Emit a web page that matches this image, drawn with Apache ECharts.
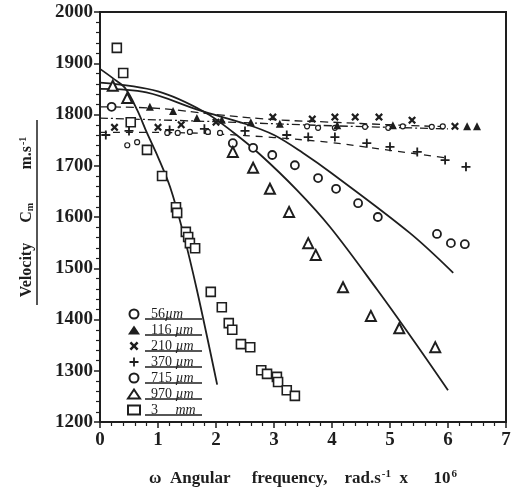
<!DOCTYPE html>
<html>
<head>
<meta charset="utf-8">
<script src="https://cdn.jsdelivr.net/npm/echarts@6/dist/echarts.min.js"></script>
<style>
  html, body { margin: 0; padding: 0; background: #fff; }
  #chart { width: 515px; height: 499px; }
</style>
</head>
<body>
<div id="chart"></div>
<script>
// 数据点: [omega (rad/s x 10^6), velocity (m/s)]
const size56 = [[0.47,1740],[0.64,1746],[1.16,1764],[1.34,1764],[1.55,1766],[1.86,1766],[2.07,1764],
  [3.57,1777],[3.76,1774],[4.05,1774],[4.57,1776],[4.97,1774],[5.22,1777],[5.72,1776],[5.91,1777]];
const size116 = [[0.86,1815],[1.26,1807],[1.67,1793],[2.1,1790],[2.6,1785],[3.1,1782],
  [4.09,1779],[5.05,1779],[6.33,1777],[6.5,1777]];
const size210 = [[0.25,1775],[1.0,1775],[1.4,1780],[2.0,1785],[2.98,1795],[3.66,1791],
  [4.05,1795],[4.4,1795],[4.81,1795],[5.38,1789],[6.12,1777]];
const size370 = [[0.1,1760],[0.5,1768],[1.2,1770],[1.8,1772],[2.5,1768],[3.22,1760],[3.59,1756],
  [4.05,1756],[4.6,1744],[5.0,1737],[5.47,1727],[5.95,1711],[6.31,1698]];
const size715 = [[0.2,1815],[2.29,1744],[2.64,1735],[2.97,1721],[3.36,1701],[3.76,1676],[4.07,1655],
  [4.45,1627],[4.79,1600],[5.81,1567],[6.05,1549],[6.29,1547]];
const size970 = [[0.22,1856],[0.47,1832],[2.29,1727],[2.64,1696],[2.93,1655],[3.26,1610],[3.59,1549],
  [3.72,1526],[4.19,1463],[4.67,1407],[5.16,1383],[5.78,1346]];
const size3mm = [[0.29,1930],[0.4,1881],[0.53,1785],[0.81,1731],[1.07,1680],[1.31,1619],[1.33,1608],
  [1.48,1571],[1.52,1561],[1.55,1549],[1.64,1539],[1.91,1454],[2.1,1424],[2.22,1393],[2.28,1380],
  [2.43,1352],[2.59,1346],[2.78,1301],[2.88,1294],[3.05,1288],[3.07,1278],[3.22,1262],[3.36,1251]];

// 理论曲线
const fit3mm = [[0,1889],[0.22,1871],[0.43,1852],[0.64,1809],[0.81,1764],[1.0,1717],[1.21,1658],
  [1.43,1571],[1.67,1458],[2.02,1273]];
const fit970 = [[0,1862],[1,1845],[1.8,1805],[2.3,1765],[2.76,1722],[3.4,1652],[3.97,1580],
  [4.78,1458],[5.4,1360],[6.0,1262]];
const fit715 = [[0,1850],[0.8,1843],[1.72,1808],[2.5,1782],[3.0,1760],[3.5,1725],[4.0,1685],
  [5.34,1569],[6.09,1491]];
const fitDashA = [[0,1815],[1,1812],[2,1800],[3,1790],[4,1785],[5,1780],[6,1776]];
const fitDashDot = [[0,1793],[2,1786],[4,1778],[6,1772]];
const fit370 = [[0,1765],[1,1765],[2,1762],[3,1755],[4,1745],[5,1730],[6,1715]];

const legendNames = ['56µm', '116 µm', '210 µm', '370 µm', '715 µm', '970 µm', '3     mm'];

const INK = '#1e1e1e';
const SERIF = '"Liberation Serif", "DejaVu Serif", serif';
const CROSS = 'path://M2,0 L5,3 L8,0 L10,2 L7,5 L10,8 L8,10 L5,7 L2,10 L0,8 L3,5 L0,2 Z';
const PLUS = 'path://M4,0 H6 V4 H10 V6 H6 V10 H4 V6 H0 V4 H4 Z';

function scatter(name, data, symbol, symbolSize, open, borderWidth) {
  return {
    name, type: 'scatter', data, symbol, symbolSize,
    itemStyle: open
      ? { color: '#fff', borderColor: INK, borderWidth: borderWidth || 1.5, opacity: 1 }
      : { color: INK, opacity: 1 },
    z: 3
  };
}

function curve(data, type, width) {
  return {
    type: 'line', data, smooth: 0.35, showSymbol: false, silent: true,
    lineStyle: { color: INK, width: width || 1.8, type: type || 'solid' },
    z: 2
  };
}

const chart = echarts.init(document.getElementById('chart'), null, { renderer: 'canvas' });

// 图例下划线 (y 坐标)
const underlineRows = [319, 335, 351, 367, 383, 399, 415];

chart.setOption({
  backgroundColor: '#fff',
  animation: false,
  grid: { left: 100, right: 9, top: 12, bottom: 77, show: true, borderColor: INK, borderWidth: 2 },
  xAxis: {
    type: 'value', min: 0, max: 7, interval: 1,
    name: '{b|ω  Angular     frequency,    rad.s}{sup|-1}{b|  x      10}{sup|6}',
    nameLocation: 'middle', nameGap: 47,
    nameTextStyle: {
      rich: {
        b: { fontFamily: SERIF, fontWeight: 'bold', fontSize: 17, color: INK },
        sup: { fontFamily: SERIF, fontWeight: 'bold', fontSize: 11, color: INK, padding: [0, 0, 9, 1] }
      }
    },
    axisLine: { lineStyle: { color: INK, width: 2 } },
    axisTick: { length: 6, lineStyle: { color: INK, width: 1.5 } },
    minorTick: { show: true, splitNumber: 5, length: 4, lineStyle: { color: INK, width: 1.2 } },
    splitLine: { show: false },
    axisLabel: { color: INK, fontFamily: SERIF, fontWeight: 'bold', fontSize: 19, margin: 9 }
  },
  yAxis: {
    type: 'value', min: 1200, max: 2000, interval: 100,
    name: '{b|Velocity}      {b|C}{sub|m}          {b|m.s}{sup|-1}',
    nameLocation: 'middle', nameRotate: 90, nameGap: 64,
    nameTextStyle: {
      rich: {
        b: { fontFamily: SERIF, fontWeight: 'bold', fontSize: 16, color: INK },
        sub: { fontFamily: SERIF, fontWeight: 'bold', fontSize: 10, color: INK, padding: [6, 0, 0, 0] },
        sup: { fontFamily: SERIF, fontWeight: 'bold', fontSize: 10, color: INK, padding: [0, 0, 8, 1] }
      }
    },
    axisLine: { lineStyle: { color: INK, width: 2 } },
    axisTick: { length: 6, lineStyle: { color: INK, width: 1.5 } },
    minorTick: { show: true, splitNumber: 5, length: 4, lineStyle: { color: INK, width: 1.2 } },
    splitLine: { show: false },
    axisLabel: {
      color: INK, fontFamily: SERIF, fontWeight: 'bold', fontSize: 19, margin: 7,
      formatter: v => String(v)
    }
  },
  legend: {
    data: legendNames,
    orient: 'vertical', left: 122, top: 302,
    itemWidth: 12, itemHeight: 9, itemGap: 2,
    formatter: name => {
      // 数字正体, 单位斜体, 保留原有空格
      const m = name.match(/^(\d+)(\s*)(\S+)$/);
      return '{n|' + m[1] + m[2] + '}{u|' + m[3] + '}';
    },
    textStyle: {
      padding: [0, 0, 0, 6],
      rich: {
        n: { fontFamily: SERIF, fontSize: 14, color: INK, lineHeight: 13 },
        u: { fontFamily: SERIF, fontSize: 14, fontStyle: 'italic', color: INK, lineHeight: 13 }
      }
    }
  },
  graphic: [
    // y轴标题下划线
    { type: 'line', shape: { x1: 37, y1: 120, x2: 37, y2: 305 }, style: { stroke: INK, lineWidth: 1.5 } }
  ].concat(underlineRows.map(y => ({
    type: 'line',
    shape: { x1: 145, y1: y, x2: 202, y2: y },
    style: { stroke: INK, lineWidth: 1.5 }
  }))),
  series: [
    scatter('56µm', size56, 'circle', 5, true, 1.2),
    scatter('116 µm', size116, 'triangle', 8, false),
    scatter('210 µm', size210, CROSS, 8, false),
    scatter('370 µm', size370, PLUS, 9, false),
    scatter('715 µm', size715, 'circle', 8, true, 1.8),
    scatter('970 µm', size970, 'triangle', 10, true, 2),
    scatter('3     mm', size3mm, 'rect', 9, true, 1.6),
    curve(fit3mm),
    curve(fit970),
    curve(fit715),
    curve(fitDashA, [8, 5], 1.3),
    curve(fitDashDot, [8, 3, 2, 3], 1.3),
    curve(fit370, [7, 6], 1.3)
  ]
});
</script>
</body>
</html>
